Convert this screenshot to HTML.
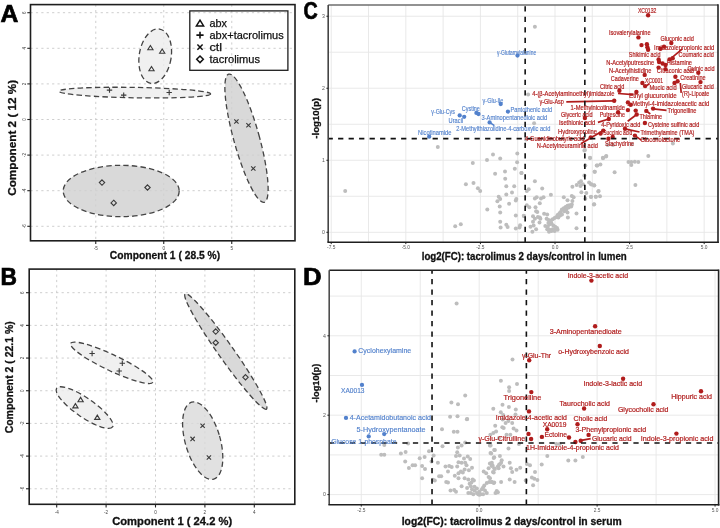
<!DOCTYPE html><html><head><meta charset="utf-8"><style>
html,body{margin:0;padding:0;background:#fff;width:720px;height:528px;overflow:hidden}
svg{display:block;will-change:transform}
text{font-family:"Liberation Sans", sans-serif}
</style></head><body>
<svg width="720" height="528" viewBox="0 0 720 528">
<rect width="720" height="528" fill="#fff"/>
<line x1="30.5" y1="12.7" x2="295" y2="12.7" stroke="#c8c8c8" stroke-width="0.9" stroke-dasharray="2.2,3.2"/>
<line x1="30.5" y1="48.3" x2="295" y2="48.3" stroke="#c8c8c8" stroke-width="0.9" stroke-dasharray="2.2,3.2"/>
<line x1="30.5" y1="83.9" x2="295" y2="83.9" stroke="#c8c8c8" stroke-width="0.9" stroke-dasharray="2.2,3.2"/>
<line x1="30.5" y1="119.5" x2="295" y2="119.5" stroke="#c8c8c8" stroke-width="0.9" stroke-dasharray="2.2,3.2"/>
<line x1="30.5" y1="155.1" x2="295" y2="155.1" stroke="#c8c8c8" stroke-width="0.9" stroke-dasharray="2.2,3.2"/>
<line x1="30.5" y1="190.7" x2="295" y2="190.7" stroke="#c8c8c8" stroke-width="0.9" stroke-dasharray="2.2,3.2"/>
<line x1="30.5" y1="226.3" x2="295" y2="226.3" stroke="#c8c8c8" stroke-width="0.9" stroke-dasharray="2.2,3.2"/>
<line x1="95.75" y1="4.6" x2="95.75" y2="240.8" stroke="#c8c8c8" stroke-width="0.9" stroke-dasharray="2.2,3.2"/>
<line x1="163.75" y1="4.6" x2="163.75" y2="240.8" stroke="#c8c8c8" stroke-width="0.9" stroke-dasharray="2.2,3.2"/>
<line x1="231.75" y1="4.6" x2="231.75" y2="240.8" stroke="#c8c8c8" stroke-width="0.9" stroke-dasharray="2.2,3.2"/>
<ellipse cx="155.2" cy="56.2" rx="16" ry="27.5" transform="rotate(9 155.2 56.2)" fill="#ececec" fill-opacity="0.8" stroke="#444" stroke-width="1.3" stroke-dasharray="5.4,3.2"/>
<ellipse cx="134.8" cy="92.6" rx="75.8" ry="5.2" transform="rotate(1.0 134.8 92.6)" fill="#ececec" fill-opacity="0.8" stroke="#444" stroke-width="1.3" stroke-dasharray="5.4,3.2"/>
<ellipse cx="246.5" cy="138.2" rx="12.8" ry="66.5" transform="rotate(-15.5 246.5 138.2)" fill="#cfcfcf" fill-opacity="0.8" stroke="#444" stroke-width="1.3" stroke-dasharray="5.4,3.2"/>
<ellipse cx="121.2" cy="191" rx="58" ry="25.7" transform="rotate(0 121.2 191)" fill="#cfcfcf" fill-opacity="0.8" stroke="#444" stroke-width="1.3" stroke-dasharray="5.4,3.2"/>
<path d="M150.4 45.5 L153.04 49.82 L147.76000000000002 49.82 Z" fill="none" stroke="#3a3a3a" stroke-width="1.1"/>
<path d="M162.2 49.0 L164.83999999999997 53.32 L159.56 53.32 Z" fill="none" stroke="#3a3a3a" stroke-width="1.1"/>
<path d="M151.5 66.5 L154.14 70.82000000000001 L148.86 70.82000000000001 Z" fill="none" stroke="#3a3a3a" stroke-width="1.1"/>
<path d="M106.8 90.1 H112.2 M109.5 87.39999999999999 V92.8" stroke="#3a3a3a" stroke-width="1.1"/>
<path d="M121.0 95.1 H126.4 M123.7 92.39999999999999 V97.8" stroke="#3a3a3a" stroke-width="1.1"/>
<path d="M166.5 92.5 H171.89999999999998 M169.2 89.8 V95.2" stroke="#3a3a3a" stroke-width="1.1"/>
<path d="M234.24 119.34 L238.56 123.66 M234.24 123.66 L238.56 119.34" stroke="#3a3a3a" stroke-width="1.1"/>
<path d="M246.34 123.04 L250.66 127.36 M246.34 127.36 L250.66 123.04" stroke="#3a3a3a" stroke-width="1.1"/>
<path d="M251.14000000000001 166.34 L255.46 170.66 M251.14000000000001 170.66 L255.46 166.34" stroke="#3a3a3a" stroke-width="1.1"/>
<path d="M102 179.9 L104.7 182.6 L102 185.29999999999998 L99.3 182.6 Z" fill="none" stroke="#3a3a3a" stroke-width="1.1"/>
<path d="M113.7 200.20000000000002 L116.4 202.9 L113.7 205.6 L111.0 202.9 Z" fill="none" stroke="#3a3a3a" stroke-width="1.1"/>
<path d="M147.5 184.8 L150.2 187.5 L147.5 190.2 L144.8 187.5 Z" fill="none" stroke="#3a3a3a" stroke-width="1.1"/>
<rect x="30.5" y="4.6" width="264.5" height="236.20000000000002" fill="none" stroke="#1e1e1e" stroke-width="1.6"/>
<line x1="95.75" y1="240.8" x2="95.75" y2="244.0" stroke="#222" stroke-width="1.1"/>
<text x="95.75" y="250.20000000000002" font-size="4.6" fill="#444" text-anchor="middle">-5</text>
<line x1="163.75" y1="240.8" x2="163.75" y2="244.0" stroke="#222" stroke-width="1.1"/>
<text x="163.75" y="250.20000000000002" font-size="4.6" fill="#444" text-anchor="middle">0</text>
<line x1="231.75" y1="240.8" x2="231.75" y2="244.0" stroke="#222" stroke-width="1.1"/>
<text x="231.75" y="250.20000000000002" font-size="4.6" fill="#444" text-anchor="middle">5</text>
<line x1="27.3" y1="12.7" x2="30.5" y2="12.7" stroke="#222" stroke-width="1.1"/>
<text x="24.0" y="12.7" font-size="4.6" fill="#444" text-anchor="middle" transform="rotate(-90 24.0 12.7)" dy="1.6">6</text>
<line x1="27.3" y1="48.3" x2="30.5" y2="48.3" stroke="#222" stroke-width="1.1"/>
<text x="24.0" y="48.3" font-size="4.6" fill="#444" text-anchor="middle" transform="rotate(-90 24.0 48.3)" dy="1.6">4</text>
<line x1="27.3" y1="83.9" x2="30.5" y2="83.9" stroke="#222" stroke-width="1.1"/>
<text x="24.0" y="83.9" font-size="4.6" fill="#444" text-anchor="middle" transform="rotate(-90 24.0 83.9)" dy="1.6">2</text>
<line x1="27.3" y1="119.5" x2="30.5" y2="119.5" stroke="#222" stroke-width="1.1"/>
<text x="24.0" y="119.5" font-size="4.6" fill="#444" text-anchor="middle" transform="rotate(-90 24.0 119.5)" dy="1.6">0</text>
<line x1="27.3" y1="155.1" x2="30.5" y2="155.1" stroke="#222" stroke-width="1.1"/>
<text x="24.0" y="155.1" font-size="4.6" fill="#444" text-anchor="middle" transform="rotate(-90 24.0 155.1)" dy="1.6">-2</text>
<line x1="27.3" y1="190.7" x2="30.5" y2="190.7" stroke="#222" stroke-width="1.1"/>
<text x="24.0" y="190.7" font-size="4.6" fill="#444" text-anchor="middle" transform="rotate(-90 24.0 190.7)" dy="1.6">-4</text>
<line x1="27.3" y1="226.3" x2="30.5" y2="226.3" stroke="#222" stroke-width="1.1"/>
<text x="24.0" y="226.3" font-size="4.6" fill="#444" text-anchor="middle" transform="rotate(-90 24.0 226.3)" dy="1.6">-6</text>
<text x="109.8" y="258.9" font-size="11.4" font-weight="bold" fill="#111" stroke="#111" stroke-width="0.3" textLength="110.4" lengthAdjust="spacingAndGlyphs">Component 1 ( 28.5 %)</text>
<text x="15.9" y="195.8" font-size="11.4" font-weight="bold" fill="#111" stroke="#111" stroke-width="0.3" textLength="116" lengthAdjust="spacingAndGlyphs" transform="rotate(-90 15.9 195.8)">Component 2 ( 12 %)</text>
<text x="0" y="0" transform="translate(0.53 21.65) scale(1.03 1)" font-size="24" font-weight="bold" fill="#000" stroke="#000" stroke-width="0.7">A</text>
<rect x="189.8" y="10.9" width="98.1" height="59.4" fill="none" stroke="#1e1e1e" stroke-width="1.3"/>
<path d="M200 20.1 L203.6 25.900000000000002 L196.4 25.900000000000002 Z" fill="none" stroke="#111" stroke-width="1.5" stroke-linejoin="miter"/>
<text x="209.5" y="27.1" font-size="10.8" fill="#111" stroke="#111" stroke-width="0.25" textLength="17.5" lengthAdjust="spacingAndGlyphs">abx</text>
<path d="M196.4 35.1 H203.6 M200 31.700000000000003 V38.5" stroke="#111" stroke-width="1.6"/>
<text x="209.5" y="38.9" font-size="10.8" fill="#111" stroke="#111" stroke-width="0.25" textLength="74.2" lengthAdjust="spacingAndGlyphs">abx+tacrolimus</text>
<path d="M197.4 44.5 L202.6 49.7 M197.4 49.7 L202.6 44.5" stroke="#111" stroke-width="1.5"/>
<text x="209.5" y="50.9" font-size="10.8" fill="#111" stroke="#111" stroke-width="0.25" textLength="12.5" lengthAdjust="spacingAndGlyphs">ctl</text>
<path d="M200 56.0 L203.3 59.3 L200 62.599999999999994 L196.7 59.3 Z" fill="none" stroke="#111" stroke-width="1.5"/>
<text x="209.5" y="63.099999999999994" font-size="10.8" fill="#111" stroke="#111" stroke-width="0.25" textLength="50.5" lengthAdjust="spacingAndGlyphs">tacrolimus</text>
<line x1="29.2" y1="292.7" x2="294.8" y2="292.7" stroke="#c8c8c8" stroke-width="0.9" stroke-dasharray="2.2,3.2"/>
<line x1="29.2" y1="325.38" x2="294.8" y2="325.38" stroke="#c8c8c8" stroke-width="0.9" stroke-dasharray="2.2,3.2"/>
<line x1="29.2" y1="358.06" x2="294.8" y2="358.06" stroke="#c8c8c8" stroke-width="0.9" stroke-dasharray="2.2,3.2"/>
<line x1="29.2" y1="390.74" x2="294.8" y2="390.74" stroke="#c8c8c8" stroke-width="0.9" stroke-dasharray="2.2,3.2"/>
<line x1="29.2" y1="423.42" x2="294.8" y2="423.42" stroke="#c8c8c8" stroke-width="0.9" stroke-dasharray="2.2,3.2"/>
<line x1="29.2" y1="456.1" x2="294.8" y2="456.1" stroke="#c8c8c8" stroke-width="0.9" stroke-dasharray="2.2,3.2"/>
<line x1="29.2" y1="488.78" x2="294.8" y2="488.78" stroke="#c8c8c8" stroke-width="0.9" stroke-dasharray="2.2,3.2"/>
<line x1="56.7" y1="269.1" x2="56.7" y2="504.3" stroke="#c8c8c8" stroke-width="0.9" stroke-dasharray="2.2,3.2"/>
<line x1="106.1" y1="269.1" x2="106.1" y2="504.3" stroke="#c8c8c8" stroke-width="0.9" stroke-dasharray="2.2,3.2"/>
<line x1="155.5" y1="269.1" x2="155.5" y2="504.3" stroke="#c8c8c8" stroke-width="0.9" stroke-dasharray="2.2,3.2"/>
<line x1="204.9" y1="269.1" x2="204.9" y2="504.3" stroke="#c8c8c8" stroke-width="0.9" stroke-dasharray="2.2,3.2"/>
<line x1="254.3" y1="269.1" x2="254.3" y2="504.3" stroke="#c8c8c8" stroke-width="0.9" stroke-dasharray="2.2,3.2"/>
<ellipse cx="111.7" cy="362.8" rx="45.5" ry="8" transform="rotate(25.3 111.7 362.8)" fill="#ececec" fill-opacity="0.8" stroke="#444" stroke-width="1.3" stroke-dasharray="5.4,3.2"/>
<ellipse cx="84.6" cy="407.6" rx="34" ry="9.5" transform="rotate(34.7 84.6 407.6)" fill="#ececec" fill-opacity="0.8" stroke="#444" stroke-width="1.3" stroke-dasharray="5.4,3.2"/>
<ellipse cx="225.8" cy="351.5" rx="70.5" ry="7.6" transform="rotate(54.8 225.8 351.5)" fill="#cfcfcf" fill-opacity="0.8" stroke="#444" stroke-width="1.3" stroke-dasharray="5.4,3.2"/>
<ellipse cx="202.7" cy="440.7" rx="17.5" ry="40" transform="rotate(-16 202.7 440.7)" fill="#d9d9d9" fill-opacity="0.8" stroke="#444" stroke-width="1.3" stroke-dasharray="5.4,3.2"/>
<path d="M89.39999999999999 353.5 H94.8 M92.1 350.8 V356.2" stroke="#3a3a3a" stroke-width="1.1"/>
<path d="M119.6 363.3 H125.0 M122.3 360.6 V366.0" stroke="#3a3a3a" stroke-width="1.1"/>
<path d="M116.5 371 H121.9 M119.2 368.3 V373.7" stroke="#3a3a3a" stroke-width="1.1"/>
<path d="M80.6 397.40000000000003 L83.24 401.72 L77.96 401.72 Z" fill="none" stroke="#3a3a3a" stroke-width="1.1"/>
<path d="M75.4 403.6 L78.04 407.92 L72.76 407.92 Z" fill="none" stroke="#3a3a3a" stroke-width="1.1"/>
<path d="M97.3 415.1 L99.94 419.42 L94.66 419.42 Z" fill="none" stroke="#3a3a3a" stroke-width="1.1"/>
<path d="M215.7 328.90000000000003 L218.39999999999998 331.6 L215.7 334.3 L213.0 331.6 Z" fill="none" stroke="#3a3a3a" stroke-width="1.1"/>
<path d="M215.7 340.0 L218.39999999999998 342.7 L215.7 345.4 L213.0 342.7 Z" fill="none" stroke="#3a3a3a" stroke-width="1.1"/>
<path d="M245.5 374.6 L248.2 377.3 L245.5 380.0 L242.8 377.3 Z" fill="none" stroke="#3a3a3a" stroke-width="1.1"/>
<path d="M200.44 423.64 L204.76 427.96000000000004 M200.44 427.96000000000004 L204.76 423.64" stroke="#3a3a3a" stroke-width="1.1"/>
<path d="M190.44 436.73999999999995 L194.76 441.06 M190.44 441.06 L194.76 436.73999999999995" stroke="#3a3a3a" stroke-width="1.1"/>
<path d="M206.74 455.34 L211.06 459.66 M206.74 459.66 L211.06 455.34" stroke="#3a3a3a" stroke-width="1.1"/>
<rect x="29.2" y="269.1" width="265.6" height="235.2" fill="none" stroke="#1e1e1e" stroke-width="1.6"/>
<line x1="56.7" y1="504.3" x2="56.7" y2="507.5" stroke="#222" stroke-width="1.1"/>
<text x="56.7" y="513.7" font-size="4.6" fill="#444" text-anchor="middle">-4</text>
<line x1="106.1" y1="504.3" x2="106.1" y2="507.5" stroke="#222" stroke-width="1.1"/>
<text x="106.1" y="513.7" font-size="4.6" fill="#444" text-anchor="middle">-2</text>
<line x1="155.5" y1="504.3" x2="155.5" y2="507.5" stroke="#222" stroke-width="1.1"/>
<text x="155.5" y="513.7" font-size="4.6" fill="#444" text-anchor="middle">0</text>
<line x1="204.9" y1="504.3" x2="204.9" y2="507.5" stroke="#222" stroke-width="1.1"/>
<text x="204.9" y="513.7" font-size="4.6" fill="#444" text-anchor="middle">2</text>
<line x1="254.3" y1="504.3" x2="254.3" y2="507.5" stroke="#222" stroke-width="1.1"/>
<text x="254.3" y="513.7" font-size="4.6" fill="#444" text-anchor="middle">4</text>
<line x1="26.0" y1="292.7" x2="29.2" y2="292.7" stroke="#222" stroke-width="1.1"/>
<text x="22.7" y="292.7" font-size="4.6" fill="#444" text-anchor="middle" transform="rotate(-90 22.7 292.7)" dy="1.6">6</text>
<line x1="26.0" y1="325.38" x2="29.2" y2="325.38" stroke="#222" stroke-width="1.1"/>
<text x="22.7" y="325.38" font-size="4.6" fill="#444" text-anchor="middle" transform="rotate(-90 22.7 325.38)" dy="1.6">4</text>
<line x1="26.0" y1="358.06" x2="29.2" y2="358.06" stroke="#222" stroke-width="1.1"/>
<text x="22.7" y="358.06" font-size="4.6" fill="#444" text-anchor="middle" transform="rotate(-90 22.7 358.06)" dy="1.6">2</text>
<line x1="26.0" y1="390.74" x2="29.2" y2="390.74" stroke="#222" stroke-width="1.1"/>
<text x="22.7" y="390.74" font-size="4.6" fill="#444" text-anchor="middle" transform="rotate(-90 22.7 390.74)" dy="1.6">0</text>
<line x1="26.0" y1="423.42" x2="29.2" y2="423.42" stroke="#222" stroke-width="1.1"/>
<text x="22.7" y="423.42" font-size="4.6" fill="#444" text-anchor="middle" transform="rotate(-90 22.7 423.42)" dy="1.6">-2</text>
<line x1="26.0" y1="456.1" x2="29.2" y2="456.1" stroke="#222" stroke-width="1.1"/>
<text x="22.7" y="456.1" font-size="4.6" fill="#444" text-anchor="middle" transform="rotate(-90 22.7 456.1)" dy="1.6">-4</text>
<line x1="26.0" y1="488.78" x2="29.2" y2="488.78" stroke="#222" stroke-width="1.1"/>
<text x="22.7" y="488.78" font-size="4.6" fill="#444" text-anchor="middle" transform="rotate(-90 22.7 488.78)" dy="1.6">-6</text>
<text x="112.2" y="524.9" font-size="11.4" font-weight="bold" fill="#111" stroke="#111" stroke-width="0.3" textLength="120" lengthAdjust="spacingAndGlyphs">Component 1 ( 24.2 %)</text>
<text x="12.7" y="433.3" font-size="11.4" font-weight="bold" fill="#111" stroke="#111" stroke-width="0.3" textLength="112" lengthAdjust="spacingAndGlyphs" transform="rotate(-90 12.7 433.3)">Component 2 ( 22.1 %)</text>
<text x="0" y="0" transform="translate(0.53 284.55) scale(0.95 1)" font-size="24" font-weight="bold" fill="#000" stroke="#000" stroke-width="0.7">B</text>
<line x1="331.23" y1="5" x2="331.23" y2="242.3" stroke="#e6e6e6" stroke-width="0.9"/>
<line x1="368.52" y1="5" x2="368.52" y2="242.3" stroke="#e6e6e6" stroke-width="0.9"/>
<line x1="405.82" y1="5" x2="405.82" y2="242.3" stroke="#e6e6e6" stroke-width="0.9"/>
<line x1="443.12" y1="5" x2="443.12" y2="242.3" stroke="#e6e6e6" stroke-width="0.9"/>
<line x1="480.41" y1="5" x2="480.41" y2="242.3" stroke="#e6e6e6" stroke-width="0.9"/>
<line x1="517.71" y1="5" x2="517.71" y2="242.3" stroke="#e6e6e6" stroke-width="0.9"/>
<line x1="555.00" y1="5" x2="555.00" y2="242.3" stroke="#e6e6e6" stroke-width="0.9"/>
<line x1="592.29" y1="5" x2="592.29" y2="242.3" stroke="#e6e6e6" stroke-width="0.9"/>
<line x1="629.59" y1="5" x2="629.59" y2="242.3" stroke="#e6e6e6" stroke-width="0.9"/>
<line x1="666.88" y1="5" x2="666.88" y2="242.3" stroke="#e6e6e6" stroke-width="0.9"/>
<line x1="704.18" y1="5" x2="704.18" y2="242.3" stroke="#e6e6e6" stroke-width="0.9"/>
<line x1="328.2" y1="232.30" x2="718" y2="232.30" stroke="#e6e6e6" stroke-width="0.9"/>
<line x1="328.2" y1="196.29" x2="718" y2="196.29" stroke="#e6e6e6" stroke-width="0.9"/>
<line x1="328.2" y1="160.28" x2="718" y2="160.28" stroke="#e6e6e6" stroke-width="0.9"/>
<line x1="328.2" y1="124.27" x2="718" y2="124.27" stroke="#e6e6e6" stroke-width="0.9"/>
<line x1="328.2" y1="88.26" x2="718" y2="88.26" stroke="#e6e6e6" stroke-width="0.9"/>
<line x1="328.2" y1="52.25" x2="718" y2="52.25" stroke="#e6e6e6" stroke-width="0.9"/>
<line x1="328.2" y1="16.24" x2="718" y2="16.24" stroke="#e6e6e6" stroke-width="0.9"/>
<circle cx="584.4" cy="175.5" r="2.0" fill="#bdbdbd"/>
<circle cx="345.2" cy="190.9" r="2.0" fill="#bdbdbd"/>
<circle cx="437.8" cy="147.1" r="2.0" fill="#bdbdbd"/>
<circle cx="528.1" cy="94.4" r="2.0" fill="#bdbdbd"/>
<circle cx="534.1" cy="123.3" r="2.0" fill="#bdbdbd"/>
<circle cx="534.9" cy="26.7" r="2.0" fill="#bdbdbd"/>
<circle cx="526" cy="139.6" r="2.0" fill="#bdbdbd"/>
<circle cx="493.0" cy="154.6" r="2.0" fill="#bdbdbd"/>
<circle cx="487.0" cy="160.1" r="2.0" fill="#bdbdbd"/>
<circle cx="500.2" cy="158.4" r="2.0" fill="#bdbdbd"/>
<circle cx="517.3" cy="153.6" r="2.0" fill="#bdbdbd"/>
<circle cx="472.8" cy="163.1" r="2.0" fill="#bdbdbd"/>
<circle cx="517.1" cy="162.3" r="2.0" fill="#bdbdbd"/>
<circle cx="514.8" cy="168.8" r="2.0" fill="#bdbdbd"/>
<circle cx="505.0" cy="171.4" r="2.0" fill="#bdbdbd"/>
<circle cx="495.1" cy="173.7" r="2.0" fill="#bdbdbd"/>
<circle cx="521.4" cy="173.1" r="2.0" fill="#bdbdbd"/>
<circle cx="505.2" cy="178.8" r="2.0" fill="#bdbdbd"/>
<circle cx="465.9" cy="184.3" r="2.0" fill="#bdbdbd"/>
<circle cx="473.5" cy="183.0" r="2.0" fill="#bdbdbd"/>
<circle cx="477.9" cy="188.3" r="2.0" fill="#bdbdbd"/>
<circle cx="480.2" cy="191.1" r="2.0" fill="#bdbdbd"/>
<circle cx="506.3" cy="186.2" r="2.0" fill="#bdbdbd"/>
<circle cx="514.2" cy="186.2" r="2.0" fill="#bdbdbd"/>
<circle cx="512.0" cy="192.5" r="2.0" fill="#bdbdbd"/>
<circle cx="506.3" cy="194.4" r="2.0" fill="#bdbdbd"/>
<circle cx="498.7" cy="196.8" r="2.0" fill="#bdbdbd"/>
<circle cx="500.2" cy="199.1" r="2.0" fill="#bdbdbd"/>
<circle cx="497.4" cy="201.2" r="2.0" fill="#bdbdbd"/>
<circle cx="516.3" cy="199.1" r="2.0" fill="#bdbdbd"/>
<circle cx="515.8" cy="200.6" r="2.0" fill="#bdbdbd"/>
<circle cx="509.1" cy="203.8" r="2.0" fill="#bdbdbd"/>
<circle cx="499.7" cy="206.5" r="2.0" fill="#bdbdbd"/>
<circle cx="487.3" cy="209.5" r="2.0" fill="#bdbdbd"/>
<circle cx="500.2" cy="212.5" r="2.0" fill="#bdbdbd"/>
<circle cx="515.8" cy="215.4" r="2.0" fill="#bdbdbd"/>
<circle cx="500.2" cy="221.8" r="2.0" fill="#bdbdbd"/>
<circle cx="506.3" cy="224.8" r="2.0" fill="#bdbdbd"/>
<circle cx="507.6" cy="227.1" r="2.0" fill="#bdbdbd"/>
<circle cx="500.6" cy="227.5" r="2.0" fill="#bdbdbd"/>
<circle cx="515.8" cy="228.6" r="2.0" fill="#bdbdbd"/>
<circle cx="519.5" cy="227.5" r="2.0" fill="#bdbdbd"/>
<circle cx="520.1" cy="225.2" r="2.0" fill="#bdbdbd"/>
<circle cx="455.2" cy="226.2" r="2.0" fill="#bdbdbd"/>
<circle cx="460.8" cy="224.3" r="2.0" fill="#bdbdbd"/>
<circle cx="523.9" cy="216.1" r="2.0" fill="#bdbdbd"/>
<circle cx="521.5" cy="173.1" r="2.0" fill="#bdbdbd"/>
<circle cx="584.4" cy="150.4" r="2.0" fill="#bdbdbd"/>
<circle cx="590.1" cy="158.0" r="2.0" fill="#bdbdbd"/>
<circle cx="585.3" cy="165.6" r="2.0" fill="#bdbdbd"/>
<circle cx="594.8" cy="171.8" r="2.0" fill="#bdbdbd"/>
<circle cx="596.7" cy="165.6" r="2.0" fill="#bdbdbd"/>
<circle cx="589.1" cy="182.6" r="2.0" fill="#bdbdbd"/>
<circle cx="591.6" cy="184.5" r="2.0" fill="#bdbdbd"/>
<circle cx="594.2" cy="185.5" r="2.0" fill="#bdbdbd"/>
<circle cx="598.6" cy="191.1" r="2.0" fill="#bdbdbd"/>
<circle cx="586.3" cy="193.0" r="2.0" fill="#bdbdbd"/>
<circle cx="585.3" cy="198.7" r="2.0" fill="#bdbdbd"/>
<circle cx="591.0" cy="196.8" r="2.0" fill="#bdbdbd"/>
<circle cx="595.8" cy="196.8" r="2.0" fill="#bdbdbd"/>
<circle cx="593.9" cy="204.4" r="2.0" fill="#bdbdbd"/>
<circle cx="523.8" cy="215.8" r="2.0" fill="#bdbdbd"/>
<circle cx="672.9" cy="143.5" r="2.0" fill="#bdbdbd"/>
<circle cx="607.7" cy="145.0" r="2.0" fill="#bdbdbd"/>
<circle cx="612.9" cy="145.0" r="2.0" fill="#bdbdbd"/>
<circle cx="631.7" cy="144.2" r="2.0" fill="#bdbdbd"/>
<circle cx="590" cy="157.7" r="2.0" fill="#bdbdbd"/>
<circle cx="602.9" cy="157.7" r="2.0" fill="#bdbdbd"/>
<circle cx="606.3" cy="156.0" r="2.0" fill="#bdbdbd"/>
<circle cx="648.3" cy="156.0" r="2.0" fill="#bdbdbd"/>
<circle cx="628.5" cy="161.9" r="2.0" fill="#bdbdbd"/>
<circle cx="631.3" cy="161.9" r="2.0" fill="#bdbdbd"/>
<circle cx="634.8" cy="161.7" r="2.0" fill="#bdbdbd"/>
<circle cx="638.3" cy="161.9" r="2.0" fill="#bdbdbd"/>
<circle cx="631.3" cy="165.0" r="2.0" fill="#bdbdbd"/>
<circle cx="597.3" cy="165.4" r="2.0" fill="#bdbdbd"/>
<circle cx="600.4" cy="164.4" r="2.0" fill="#bdbdbd"/>
<circle cx="594.6" cy="171.7" r="2.0" fill="#bdbdbd"/>
<circle cx="614.6" cy="172.3" r="2.0" fill="#bdbdbd"/>
<circle cx="591.0" cy="184.2" r="2.0" fill="#bdbdbd"/>
<circle cx="594.2" cy="185.2" r="2.0" fill="#bdbdbd"/>
<circle cx="635.4" cy="185.0" r="2.0" fill="#bdbdbd"/>
<circle cx="598.3" cy="191.5" r="2.0" fill="#bdbdbd"/>
<circle cx="591.0" cy="197.1" r="2.0" fill="#bdbdbd"/>
<circle cx="595.8" cy="196.7" r="2.0" fill="#bdbdbd"/>
<circle cx="600.0" cy="196.3" r="2.0" fill="#bdbdbd"/>
<circle cx="594.2" cy="204.2" r="2.0" fill="#bdbdbd"/>
<circle cx="584.9" cy="150.1" r="2.0" fill="#bdbdbd"/>
<circle cx="603" cy="158.2" r="2.0" fill="#bdbdbd"/>
<circle cx="606" cy="156.4" r="2.0" fill="#bdbdbd"/>
<circle cx="534.9" cy="181.2" r="2.0" fill="#bdbdbd"/>
<circle cx="542.2" cy="188.5" r="2.0" fill="#bdbdbd"/>
<circle cx="528.7" cy="189.2" r="2.0" fill="#bdbdbd"/>
<circle cx="526.8" cy="191" r="2.0" fill="#bdbdbd"/>
<circle cx="550.9" cy="194.7" r="2.0" fill="#bdbdbd"/>
<circle cx="534.9" cy="198.6" r="2.0" fill="#bdbdbd"/>
<circle cx="536.7" cy="197.2" r="2.0" fill="#bdbdbd"/>
<circle cx="541" cy="198.4" r="2.0" fill="#bdbdbd"/>
<circle cx="543.5" cy="197.2" r="2.0" fill="#bdbdbd"/>
<circle cx="539.8" cy="203.3" r="2.0" fill="#bdbdbd"/>
<circle cx="526.8" cy="205.2" r="2.0" fill="#bdbdbd"/>
<circle cx="529.3" cy="207.3" r="2.0" fill="#bdbdbd"/>
<circle cx="535.5" cy="207.3" r="2.0" fill="#bdbdbd"/>
<circle cx="536.1" cy="211.3" r="2.0" fill="#bdbdbd"/>
<circle cx="537.3" cy="211.9" r="2.0" fill="#bdbdbd"/>
<circle cx="544.1" cy="213.8" r="2.0" fill="#bdbdbd"/>
<circle cx="547.2" cy="214.4" r="2.0" fill="#bdbdbd"/>
<circle cx="533" cy="216.3" r="2.0" fill="#bdbdbd"/>
<circle cx="537.9" cy="216.9" r="2.0" fill="#bdbdbd"/>
<circle cx="539.8" cy="217.5" r="2.0" fill="#bdbdbd"/>
<circle cx="540.4" cy="218.7" r="2.0" fill="#bdbdbd"/>
<circle cx="534.9" cy="218.7" r="2.0" fill="#bdbdbd"/>
<circle cx="533" cy="221.8" r="2.0" fill="#bdbdbd"/>
<circle cx="539.5" cy="222.4" r="2.0" fill="#bdbdbd"/>
<circle cx="530.5" cy="226.7" r="2.0" fill="#bdbdbd"/>
<circle cx="533.6" cy="225.5" r="2.0" fill="#bdbdbd"/>
<circle cx="536.1" cy="229.2" r="2.0" fill="#bdbdbd"/>
<circle cx="532.4" cy="231.7" r="2.0" fill="#bdbdbd"/>
<circle cx="546.6" cy="218.7" r="2.0" fill="#bdbdbd"/>
<circle cx="548.4" cy="220" r="2.0" fill="#bdbdbd"/>
<circle cx="550.2" cy="220.6" r="2.0" fill="#bdbdbd"/>
<circle cx="552.7" cy="219.3" r="2.0" fill="#bdbdbd"/>
<circle cx="554.6" cy="218.1" r="2.0" fill="#bdbdbd"/>
<circle cx="556.4" cy="216.9" r="2.0" fill="#bdbdbd"/>
<circle cx="557.6" cy="215" r="2.0" fill="#bdbdbd"/>
<circle cx="559.5" cy="213.2" r="2.0" fill="#bdbdbd"/>
<circle cx="560.7" cy="211.9" r="2.0" fill="#bdbdbd"/>
<circle cx="561.9" cy="209.5" r="2.0" fill="#bdbdbd"/>
<circle cx="563.8" cy="208.3" r="2.0" fill="#bdbdbd"/>
<circle cx="565.6" cy="207" r="2.0" fill="#bdbdbd"/>
<circle cx="567.5" cy="205.8" r="2.0" fill="#bdbdbd"/>
<circle cx="569.3" cy="205.2" r="2.0" fill="#bdbdbd"/>
<circle cx="571.8" cy="204.6" r="2.0" fill="#bdbdbd"/>
<circle cx="558.3" cy="217.5" r="2.0" fill="#bdbdbd"/>
<circle cx="560.1" cy="215.6" r="2.0" fill="#bdbdbd"/>
<circle cx="562" cy="214.4" r="2.0" fill="#bdbdbd"/>
<circle cx="564.4" cy="211.3" r="2.0" fill="#bdbdbd"/>
<circle cx="566.3" cy="209.5" r="2.0" fill="#bdbdbd"/>
<circle cx="568.7" cy="207.6" r="2.0" fill="#bdbdbd"/>
<circle cx="571.2" cy="206.4" r="2.0" fill="#bdbdbd"/>
<circle cx="545.3" cy="226.1" r="2.0" fill="#bdbdbd"/>
<circle cx="547.8" cy="226.7" r="2.0" fill="#bdbdbd"/>
<circle cx="549.6" cy="224.3" r="2.0" fill="#bdbdbd"/>
<circle cx="551.5" cy="223.6" r="2.0" fill="#bdbdbd"/>
<circle cx="553.3" cy="225.5" r="2.0" fill="#bdbdbd"/>
<circle cx="555.2" cy="226.7" r="2.0" fill="#bdbdbd"/>
<circle cx="557" cy="228" r="2.0" fill="#bdbdbd"/>
<circle cx="555.8" cy="229.2" r="2.0" fill="#bdbdbd"/>
<circle cx="552.7" cy="229.2" r="2.0" fill="#bdbdbd"/>
<circle cx="549.6" cy="229.8" r="2.0" fill="#bdbdbd"/>
<circle cx="549" cy="231.7" r="2.0" fill="#bdbdbd"/>
<circle cx="551.5" cy="231" r="2.0" fill="#bdbdbd"/>
<circle cx="554.6" cy="231" r="2.0" fill="#bdbdbd"/>
<circle cx="557.6" cy="229.8" r="2.0" fill="#bdbdbd"/>
<circle cx="547.2" cy="229.2" r="2.0" fill="#bdbdbd"/>
<circle cx="548.4" cy="223" r="2.0" fill="#bdbdbd"/>
<circle cx="550.9" cy="221.8" r="2.0" fill="#bdbdbd"/>
<circle cx="567.5" cy="200.2" r="2.0" fill="#bdbdbd"/>
<circle cx="567.5" cy="212.6" r="2.0" fill="#bdbdbd"/>
<circle cx="567.9" cy="217.5" r="2.0" fill="#bdbdbd"/>
<circle cx="563.8" cy="197.2" r="2.0" fill="#bdbdbd"/>
<circle cx="571.8" cy="195.9" r="2.0" fill="#bdbdbd"/>
<circle cx="573.6" cy="197.2" r="2.0" fill="#bdbdbd"/>
<circle cx="572.4" cy="201.1" r="2.0" fill="#bdbdbd"/>
<circle cx="572.4" cy="186.7" r="2.0" fill="#bdbdbd"/>
<circle cx="576.7" cy="184.9" r="2.0" fill="#bdbdbd"/>
<circle cx="579.2" cy="182.4" r="2.0" fill="#bdbdbd"/>
<circle cx="581" cy="181.2" r="2.0" fill="#bdbdbd"/>
<circle cx="582.9" cy="184.2" r="2.0" fill="#bdbdbd"/>
<circle cx="580.4" cy="186.1" r="2.0" fill="#bdbdbd"/>
<circle cx="581.4" cy="192.2" r="2.0" fill="#bdbdbd"/>
<circle cx="576.5" cy="213.4" r="2.0" fill="#bdbdbd"/>
<circle cx="576.5" cy="228.2" r="2.0" fill="#bdbdbd"/>
<line x1="669.5" y1="59.6" x2="682.1" y2="49.1" stroke="#b01c1c" stroke-width="1.7"/>
<line x1="680.3" y1="83" x2="681.2" y2="92.9" stroke="#b01c1c" stroke-width="1.7"/>
<line x1="646" y1="86.1" x2="649.6" y2="83.5" stroke="#b01c1c" stroke-width="1.7"/>
<line x1="618" y1="93.5" x2="633.3" y2="94.7" stroke="#b01c1c" stroke-width="1.7"/>
<line x1="566.3" y1="101.9" x2="614.2" y2="100.8" stroke="#b01c1c" stroke-width="1.7"/>
<line x1="653.2" y1="108.8" x2="666.5" y2="110.3" stroke="#b01c1c" stroke-width="1.7"/>
<line x1="646.7" y1="111.3" x2="650.3" y2="114" stroke="#b01c1c" stroke-width="1.7"/>
<line x1="597.9" y1="122.4" x2="608.8" y2="119" stroke="#b01c1c" stroke-width="1.7"/>
<line x1="627.7" y1="121.2" x2="636.7" y2="114.5" stroke="#b01c1c" stroke-width="1.7"/>
<line x1="580.8" y1="143.8" x2="603.3" y2="130.6" stroke="#b01c1c" stroke-width="1.7"/>
<line x1="625" y1="128.8" x2="639.5" y2="132" stroke="#b01c1c" stroke-width="1.7"/>
<line x1="634.9" y1="135.6" x2="641.3" y2="140.1" stroke="#b01c1c" stroke-width="1.7"/>
<line x1="489.6" y1="122.4" x2="494.4" y2="125.6" stroke="#5281cc" stroke-width="1.6"/>
<circle cx="648.1" cy="15.3" r="2.2" fill="#b01c1c"/>
<circle cx="638.4" cy="37.4" r="2.2" fill="#b01c1c"/>
<circle cx="641.5" cy="45.1" r="2.2" fill="#b01c1c"/>
<circle cx="646.9" cy="44.2" r="2.2" fill="#b01c1c"/>
<circle cx="647.4" cy="47.3" r="2.2" fill="#b01c1c"/>
<circle cx="648.1" cy="49.7" r="2.2" fill="#b01c1c"/>
<circle cx="671.3" cy="43.0" r="2.2" fill="#b01c1c"/>
<circle cx="664" cy="46.6" r="2.2" fill="#b01c1c"/>
<circle cx="660.4" cy="48.8" r="2.2" fill="#b01c1c"/>
<circle cx="669.5" cy="59.4" r="2.2" fill="#b01c1c"/>
<circle cx="672.7" cy="58.2" r="2.2" fill="#b01c1c"/>
<circle cx="658.6" cy="59.5" r="2.2" fill="#b01c1c"/>
<circle cx="659.1" cy="62" r="2.2" fill="#b01c1c"/>
<circle cx="662.6" cy="63.5" r="2.2" fill="#b01c1c"/>
<circle cx="665.5" cy="65" r="2.2" fill="#b01c1c"/>
<circle cx="658.6" cy="67.6" r="2.2" fill="#b01c1c"/>
<circle cx="665.5" cy="69.1" r="2.2" fill="#b01c1c"/>
<circle cx="698.3" cy="72.7" r="2.2" fill="#b01c1c"/>
<circle cx="675.4" cy="76.7" r="2.2" fill="#b01c1c"/>
<circle cx="644.7" cy="74.9" r="2.2" fill="#b01c1c"/>
<circle cx="642.4" cy="83" r="2.2" fill="#b01c1c"/>
<circle cx="645.1" cy="86.1" r="2.2" fill="#b01c1c"/>
<circle cx="700.5" cy="82.1" r="2.2" fill="#b01c1c"/>
<circle cx="674.5" cy="83" r="2.2" fill="#b01c1c"/>
<circle cx="677.6" cy="81.2" r="2.2" fill="#b01c1c"/>
<circle cx="619.4" cy="90.8" r="2.2" fill="#b01c1c"/>
<circle cx="636.4" cy="92" r="2.2" fill="#b01c1c"/>
<circle cx="614.2" cy="100.8" r="2.2" fill="#b01c1c"/>
<circle cx="627.9" cy="102.4" r="2.2" fill="#b01c1c"/>
<circle cx="630.7" cy="104.8" r="2.2" fill="#b01c1c"/>
<circle cx="627.9" cy="110.1" r="2.2" fill="#b01c1c"/>
<circle cx="635.7" cy="110.6" r="2.2" fill="#b01c1c"/>
<circle cx="653.1" cy="108.6" r="2.2" fill="#b01c1c"/>
<circle cx="618.1" cy="112.2" r="2.2" fill="#b01c1c"/>
<circle cx="646.3" cy="110.9" r="2.2" fill="#b01c1c"/>
<circle cx="584.9" cy="118.1" r="2.2" fill="#b01c1c"/>
<circle cx="608.8" cy="119" r="2.2" fill="#b01c1c"/>
<circle cx="636.7" cy="114.5" r="2.2" fill="#b01c1c"/>
<circle cx="644.9" cy="123" r="2.2" fill="#b01c1c"/>
<circle cx="603.3" cy="130.6" r="2.2" fill="#b01c1c"/>
<circle cx="600.6" cy="133.5" r="2.2" fill="#b01c1c"/>
<circle cx="625" cy="128.8" r="2.2" fill="#b01c1c"/>
<circle cx="634.9" cy="135.6" r="2.2" fill="#b01c1c"/>
<circle cx="590.7" cy="137.4" r="2.2" fill="#b01c1c"/>
<circle cx="608.4" cy="138.7" r="2.2" fill="#b01c1c"/>
<circle cx="612.7" cy="136.9" r="2.2" fill="#b01c1c"/>
<circle cx="517.5" cy="55.6" r="2.15" fill="#5281cc"/>
<circle cx="500.7" cy="104" r="2.15" fill="#5281cc"/>
<circle cx="507.9" cy="111.6" r="2.15" fill="#5281cc"/>
<circle cx="459.7" cy="115.4" r="2.15" fill="#5281cc"/>
<circle cx="464.2" cy="116.8" r="2.15" fill="#5281cc"/>
<circle cx="476.4" cy="112.9" r="2.15" fill="#5281cc"/>
<circle cx="478.5" cy="114" r="2.15" fill="#5281cc"/>
<circle cx="489.6" cy="122.4" r="2.15" fill="#5281cc"/>
<circle cx="429.2" cy="136.7" r="2.15" fill="#5281cc"/>
<line x1="525.16" y1="5" x2="525.16" y2="242.3" stroke="#111" stroke-width="1.6" stroke-dasharray="5.25,5.25" stroke-dashoffset="-1.3"/>
<line x1="584.84" y1="5" x2="584.84" y2="242.3" stroke="#111" stroke-width="1.6" stroke-dasharray="5.25,5.25" stroke-dashoffset="-1.3"/>
<line x1="328.2" y1="138.60" x2="718" y2="138.60" stroke="#111" stroke-width="1.6" stroke-dasharray="5.25,5.25" stroke-dashoffset="0.6"/>
<text x="637.9" y="13.45" font-size="7.5" fill="#b01c1c" stroke="#b01c1c" stroke-width="0.2" textLength="18.5" lengthAdjust="spacingAndGlyphs">XC0132</text>
<text x="609" y="35.25" font-size="7.5" fill="#b01c1c" stroke="#b01c1c" stroke-width="0.2" textLength="41.5" lengthAdjust="spacingAndGlyphs">Isovalerylalanine</text>
<text x="660.4" y="41.05" font-size="7.5" fill="#b01c1c" stroke="#b01c1c" stroke-width="0.2" textLength="33.4" lengthAdjust="spacingAndGlyphs">Gluconic acid</text>
<text x="654.1" y="50.15" font-size="7.5" fill="#b01c1c" stroke="#b01c1c" stroke-width="0.2" textLength="60.1" lengthAdjust="spacingAndGlyphs">Imidazolepropionic acid</text>
<text x="628.8" y="56.95" font-size="7.5" fill="#b01c1c" stroke="#b01c1c" stroke-width="0.2" textLength="31.6" lengthAdjust="spacingAndGlyphs">Shikimic acid</text>
<text x="678.5" y="56.95" font-size="7.5" fill="#b01c1c" stroke="#b01c1c" stroke-width="0.2" textLength="35.2" lengthAdjust="spacingAndGlyphs">Coumaric acid</text>
<text x="606.3" y="65.35" font-size="7.5" fill="#b01c1c" stroke="#b01c1c" stroke-width="0.2" textLength="47.8" lengthAdjust="spacingAndGlyphs">N-Acetylputrescine</text>
<text x="666.7" y="65.35" font-size="7.5" fill="#b01c1c" stroke="#b01c1c" stroke-width="0.2" textLength="25.3" lengthAdjust="spacingAndGlyphs">Histamine</text>
<text x="609" y="73.15" font-size="7.5" fill="#b01c1c" stroke="#b01c1c" stroke-width="0.2" textLength="42.4" lengthAdjust="spacingAndGlyphs">N-Acetylhistidine</text>
<text x="656.8" y="73.15" font-size="7.5" fill="#b01c1c" stroke="#b01c1c" stroke-width="0.2" textLength="37.0" lengthAdjust="spacingAndGlyphs">Citraconic acid</text>
<text x="687.5" y="70.75" font-size="7.5" fill="#b01c1c" stroke="#b01c1c" stroke-width="0.2" textLength="27.1" lengthAdjust="spacingAndGlyphs">Quinic acid</text>
<text x="680.3" y="80.35" font-size="7.5" fill="#b01c1c" stroke="#b01c1c" stroke-width="0.2" textLength="25.3" lengthAdjust="spacingAndGlyphs">Creatinine</text>
<text x="610.8" y="81.25" font-size="7.5" fill="#b01c1c" stroke="#b01c1c" stroke-width="0.2" textLength="28.0" lengthAdjust="spacingAndGlyphs">Cadaverine</text>
<text x="645.1" y="82.55" font-size="7.5" fill="#b01c1c" stroke="#b01c1c" stroke-width="0.2" textLength="18.0" lengthAdjust="spacingAndGlyphs">XC0001</text>
<text x="649.6" y="90.25" font-size="7.5" fill="#b01c1c" stroke="#b01c1c" stroke-width="0.2" textLength="27.1" lengthAdjust="spacingAndGlyphs">Mucic acid</text>
<text x="682.1" y="88.85" font-size="7.5" fill="#b01c1c" stroke="#b01c1c" stroke-width="0.2" textLength="31.6" lengthAdjust="spacingAndGlyphs">Glucaric acid</text>
<text x="682.1" y="96.05" font-size="7.5" fill="#b01c1c" stroke="#b01c1c" stroke-width="0.2" textLength="27.1" lengthAdjust="spacingAndGlyphs">(R)-Lipoate</text>
<text x="599.9" y="89.35" font-size="7.5" fill="#b01c1c" stroke="#b01c1c" stroke-width="0.2" textLength="24.4" lengthAdjust="spacingAndGlyphs">Citric acid</text>
<text x="532.3" y="96.45" font-size="7.5" fill="#b01c1c" stroke="#b01c1c" stroke-width="0.2" textLength="82.1" lengthAdjust="spacingAndGlyphs">4-(β-Acetylaminoethyl)imidazole</text>
<text x="629" y="98.45" font-size="7.5" fill="#b01c1c" stroke="#b01c1c" stroke-width="0.2" textLength="47.7" lengthAdjust="spacingAndGlyphs">Ethyl glucuronide</text>
<text x="539.5" y="104.25" font-size="7.5" fill="#b01c1c" stroke="#b01c1c" stroke-width="0.2" textLength="24.4" lengthAdjust="spacingAndGlyphs">γ-Glu-Asp</text>
<text x="570.5" y="109.55" font-size="7.5" fill="#b01c1c" stroke="#b01c1c" stroke-width="0.2" textLength="54.5" lengthAdjust="spacingAndGlyphs">1-Methylnicotinamide</text>
<text x="627" y="105.65" font-size="7.5" fill="#b01c1c" stroke="#b01c1c" stroke-width="0.2" textLength="82.2" lengthAdjust="spacingAndGlyphs">1-Methyl-4-imidazoleacetic acid</text>
<text x="667.6" y="113.25" font-size="7.5" fill="#b01c1c" stroke="#b01c1c" stroke-width="0.2" textLength="28.9" lengthAdjust="spacingAndGlyphs">Trigonelline</text>
<text x="561" y="116.55" font-size="7.5" fill="#b01c1c" stroke="#b01c1c" stroke-width="0.2" textLength="31.5" lengthAdjust="spacingAndGlyphs">Glyceric acid</text>
<text x="599.7" y="117.45" font-size="7.5" fill="#b01c1c" stroke="#b01c1c" stroke-width="0.2" textLength="25.3" lengthAdjust="spacingAndGlyphs">Putrescine</text>
<text x="639.5" y="119.25" font-size="7.5" fill="#b01c1c" stroke="#b01c1c" stroke-width="0.2" textLength="22.5" lengthAdjust="spacingAndGlyphs">Thiamine</text>
<text x="559" y="125.25" font-size="7.5" fill="#b01c1c" stroke="#b01c1c" stroke-width="0.2" textLength="36.2" lengthAdjust="spacingAndGlyphs">Isethionic acid</text>
<text x="601.2" y="126.55" font-size="7.5" fill="#b01c1c" stroke="#b01c1c" stroke-width="0.2" textLength="39.2" lengthAdjust="spacingAndGlyphs">4-Pyridoxic acid</text>
<text x="648.1" y="126.55" font-size="7.5" fill="#b01c1c" stroke="#b01c1c" stroke-width="0.2" textLength="51.1" lengthAdjust="spacingAndGlyphs">Cysteine sulfinic acid</text>
<text x="558.1" y="133.55" font-size="7.5" fill="#b01c1c" stroke="#b01c1c" stroke-width="0.2" textLength="38.9" lengthAdjust="spacingAndGlyphs">Hydroxyproline</text>
<text x="603.3" y="135.15" font-size="7.5" fill="#b01c1c" stroke="#b01c1c" stroke-width="0.2" textLength="28.9" lengthAdjust="spacingAndGlyphs">Succinic acid</text>
<text x="640.4" y="134.65" font-size="7.5" fill="#b01c1c" stroke="#b01c1c" stroke-width="0.2" textLength="54.0" lengthAdjust="spacingAndGlyphs">Trimethylamine (TMA)</text>
<text x="640.4" y="142.35" font-size="7.5" fill="#b01c1c" stroke="#b01c1c" stroke-width="0.2" textLength="39.7" lengthAdjust="spacingAndGlyphs">Gluconolactone</text>
<text x="525" y="140.75" font-size="7.5" fill="#b01c1c" stroke="#b01c1c" stroke-width="0.2" textLength="59.5" lengthAdjust="spacingAndGlyphs">4-Guanidinobutyric acid</text>
<text x="605.1" y="145.65" font-size="7.5" fill="#b01c1c" stroke="#b01c1c" stroke-width="0.2" textLength="28.9" lengthAdjust="spacingAndGlyphs">Stachydrine</text>
<text x="536.8" y="148.45" font-size="7.5" fill="#b01c1c" stroke="#b01c1c" stroke-width="0.2" textLength="61.1" lengthAdjust="spacingAndGlyphs">N-Acetylneuraminic acid</text>
<text x="497" y="54.55" font-size="7.5" fill="#5281cc" stroke="#5281cc" stroke-width="0.15" textLength="39.1" lengthAdjust="spacingAndGlyphs">γ-Glutamylalanine</text>
<text x="482.6" y="102.65" font-size="7.5" fill="#5281cc" stroke="#5281cc" stroke-width="0.15" textLength="20.8" lengthAdjust="spacingAndGlyphs">γ-Glu-Ile</text>
<text x="510.6" y="111.55" font-size="7.5" fill="#5281cc" stroke="#5281cc" stroke-width="0.15" textLength="41.6" lengthAdjust="spacingAndGlyphs">Pantothenic acid</text>
<text x="431.3" y="113.95" font-size="7.5" fill="#5281cc" stroke="#5281cc" stroke-width="0.15" textLength="23.6" lengthAdjust="spacingAndGlyphs">γ-Glu-Cys</text>
<text x="461.8" y="111.45" font-size="7.5" fill="#5281cc" stroke="#5281cc" stroke-width="0.15" textLength="18.1" lengthAdjust="spacingAndGlyphs">Cystine</text>
<text x="448.6" y="123.25" font-size="7.5" fill="#5281cc" stroke="#5281cc" stroke-width="0.15" textLength="14.6" lengthAdjust="spacingAndGlyphs">Uracil</text>
<text x="481.5" y="119.95" font-size="7.5" fill="#5281cc" stroke="#5281cc" stroke-width="0.15" textLength="65.8" lengthAdjust="spacingAndGlyphs">3-Aminopentanedioic acid</text>
<text x="456.25" y="130.75" font-size="7.5" fill="#5281cc" stroke="#5281cc" stroke-width="0.15" textLength="94.1" lengthAdjust="spacingAndGlyphs">2-Methylthiazolidine-4-carboxylic acid</text>
<text x="418.1" y="134.75" font-size="7.5" fill="#5281cc" stroke="#5281cc" stroke-width="0.15" textLength="33.3" lengthAdjust="spacingAndGlyphs">Nicotinamide</text>
<path d="M328.2 5 H718" stroke="#6e6e6e" stroke-width="1.6" fill="none"/>
<path d="M328.2 5 V242.3" stroke="#454545" stroke-width="1.6" fill="none"/>
<path d="M327.4 242.3 H718.8" stroke="#1e1e1e" stroke-width="1.6" fill="none"/>
<path d="M718 4.2 V243.10000000000002" stroke="#222" stroke-width="1.6" fill="none"/>
<line x1="331.23" y1="242.3" x2="331.23" y2="244.10000000000002" stroke="#222" stroke-width="1"/>
<text x="331.23" y="249.10000000000002" font-size="4.8" fill="#555" text-anchor="middle">-7.5</text>
<line x1="405.82" y1="242.3" x2="405.82" y2="244.10000000000002" stroke="#222" stroke-width="1"/>
<text x="405.82" y="249.10000000000002" font-size="4.8" fill="#555" text-anchor="middle">-5.0</text>
<line x1="480.41" y1="242.3" x2="480.41" y2="244.10000000000002" stroke="#222" stroke-width="1"/>
<text x="480.41" y="249.10000000000002" font-size="4.8" fill="#555" text-anchor="middle">-2.5</text>
<line x1="555.00" y1="242.3" x2="555.00" y2="244.10000000000002" stroke="#222" stroke-width="1"/>
<text x="555.00" y="249.10000000000002" font-size="4.8" fill="#555" text-anchor="middle">0.0</text>
<line x1="629.59" y1="242.3" x2="629.59" y2="244.10000000000002" stroke="#222" stroke-width="1"/>
<text x="629.59" y="249.10000000000002" font-size="4.8" fill="#555" text-anchor="middle">2.5</text>
<line x1="704.18" y1="242.3" x2="704.18" y2="244.10000000000002" stroke="#222" stroke-width="1"/>
<text x="704.18" y="249.10000000000002" font-size="4.8" fill="#555" text-anchor="middle">5.0</text>
<line x1="326.4" y1="232.30" x2="328.2" y2="232.30" stroke="#222" stroke-width="1"/>
<text x="324.9" y="234.10" font-size="5.2" fill="#555" text-anchor="end">0</text>
<line x1="326.4" y1="160.28" x2="328.2" y2="160.28" stroke="#222" stroke-width="1"/>
<text x="324.9" y="162.08" font-size="5.2" fill="#555" text-anchor="end">1</text>
<line x1="326.4" y1="88.26" x2="328.2" y2="88.26" stroke="#222" stroke-width="1"/>
<text x="324.9" y="90.06" font-size="5.2" fill="#555" text-anchor="end">2</text>
<line x1="326.4" y1="16.24" x2="328.2" y2="16.24" stroke="#222" stroke-width="1"/>
<text x="324.9" y="18.04" font-size="5.2" fill="#555" text-anchor="end">3</text>
<text x="421.7" y="260" font-size="10" font-weight="bold" fill="#111" stroke="#111" stroke-width="0.3" textLength="205.0" lengthAdjust="spacingAndGlyphs">log2(FC): tacrolimus 2 days/control in lumen</text>
<text x="319.0" y="138.7" font-size="9.2" font-weight="bold" fill="#111" stroke="#111" stroke-width="0.3" textLength="40.7" lengthAdjust="spacingAndGlyphs" transform="rotate(-90 319.0 138.7)">-log10(p)</text>
<text x="0" y="0" transform="translate(303.43 19.07) scale(0.82 1)" font-size="24" font-weight="bold" fill="#000" stroke="#000" stroke-width="0.7">C</text>
<line x1="361.27" y1="270.3" x2="361.27" y2="504.8" stroke="#e6e6e6" stroke-width="0.9"/>
<line x1="420.24" y1="270.3" x2="420.24" y2="504.8" stroke="#e6e6e6" stroke-width="0.9"/>
<line x1="479.20" y1="270.3" x2="479.20" y2="504.8" stroke="#e6e6e6" stroke-width="0.9"/>
<line x1="538.16" y1="270.3" x2="538.16" y2="504.8" stroke="#e6e6e6" stroke-width="0.9"/>
<line x1="597.12" y1="270.3" x2="597.12" y2="504.8" stroke="#e6e6e6" stroke-width="0.9"/>
<line x1="656.09" y1="270.3" x2="656.09" y2="504.8" stroke="#e6e6e6" stroke-width="0.9"/>
<line x1="715.05" y1="270.3" x2="715.05" y2="504.8" stroke="#e6e6e6" stroke-width="0.9"/>
<line x1="329.2" y1="494.60" x2="718.6" y2="494.60" stroke="#e6e6e6" stroke-width="0.9"/>
<line x1="329.2" y1="454.90" x2="718.6" y2="454.90" stroke="#e6e6e6" stroke-width="0.9"/>
<line x1="329.2" y1="415.20" x2="718.6" y2="415.20" stroke="#e6e6e6" stroke-width="0.9"/>
<line x1="329.2" y1="375.50" x2="718.6" y2="375.50" stroke="#e6e6e6" stroke-width="0.9"/>
<line x1="329.2" y1="335.80" x2="718.6" y2="335.80" stroke="#e6e6e6" stroke-width="0.9"/>
<line x1="329.2" y1="296.10" x2="718.6" y2="296.10" stroke="#e6e6e6" stroke-width="0.9"/>
<circle cx="456.6" cy="303.4" r="2.0" fill="#bdbdbd"/>
<circle cx="512.5" cy="359.5" r="2.0" fill="#bdbdbd"/>
<circle cx="500.9" cy="380.7" r="2.0" fill="#bdbdbd"/>
<circle cx="509.1" cy="387.3" r="2.0" fill="#bdbdbd"/>
<circle cx="509.1" cy="390.9" r="2.0" fill="#bdbdbd"/>
<circle cx="517" cy="384.1" r="2.0" fill="#bdbdbd"/>
<circle cx="465.2" cy="395.5" r="2.0" fill="#bdbdbd"/>
<circle cx="451.4" cy="402.6" r="2.0" fill="#bdbdbd"/>
<circle cx="458" cy="404.3" r="2.0" fill="#bdbdbd"/>
<circle cx="450.1" cy="416.7" r="2.0" fill="#bdbdbd"/>
<circle cx="457.5" cy="416.2" r="2.0" fill="#bdbdbd"/>
<circle cx="466.9" cy="419.3" r="2.0" fill="#bdbdbd"/>
<circle cx="442" cy="429.2" r="2.0" fill="#bdbdbd"/>
<circle cx="453.8" cy="431.7" r="2.0" fill="#bdbdbd"/>
<circle cx="457.5" cy="431.7" r="2.0" fill="#bdbdbd"/>
<circle cx="467.2" cy="419.1" r="2.0" fill="#bdbdbd"/>
<circle cx="493.3" cy="408.7" r="2.0" fill="#bdbdbd"/>
<circle cx="502.5" cy="404.8" r="2.0" fill="#bdbdbd"/>
<circle cx="508.9" cy="407.1" r="2.0" fill="#bdbdbd"/>
<circle cx="515.8" cy="409.4" r="2.0" fill="#bdbdbd"/>
<circle cx="500.8" cy="412.3" r="2.0" fill="#bdbdbd"/>
<circle cx="503.2" cy="414.9" r="2.0" fill="#bdbdbd"/>
<circle cx="515.5" cy="414.4" r="2.0" fill="#bdbdbd"/>
<circle cx="502.7" cy="419.6" r="2.0" fill="#bdbdbd"/>
<circle cx="505.6" cy="423" r="2.0" fill="#bdbdbd"/>
<circle cx="508.4" cy="421" r="2.0" fill="#bdbdbd"/>
<circle cx="512.2" cy="423" r="2.0" fill="#bdbdbd"/>
<circle cx="495.2" cy="425.8" r="2.0" fill="#bdbdbd"/>
<circle cx="502.3" cy="427.2" r="2.0" fill="#bdbdbd"/>
<circle cx="503.7" cy="428.1" r="2.0" fill="#bdbdbd"/>
<circle cx="513.6" cy="428.6" r="2.0" fill="#bdbdbd"/>
<circle cx="516.5" cy="430.5" r="2.0" fill="#bdbdbd"/>
<circle cx="496.1" cy="431.5" r="2.0" fill="#bdbdbd"/>
<circle cx="493.3" cy="432.9" r="2.0" fill="#bdbdbd"/>
<circle cx="490.4" cy="434.8" r="2.0" fill="#bdbdbd"/>
<circle cx="506.5" cy="434.8" r="2.0" fill="#bdbdbd"/>
<circle cx="510.3" cy="434.8" r="2.0" fill="#bdbdbd"/>
<circle cx="499" cy="438" r="2.0" fill="#bdbdbd"/>
<circle cx="384.3" cy="444.9" r="2.0" fill="#bdbdbd"/>
<circle cx="381.2" cy="454.8" r="2.0" fill="#bdbdbd"/>
<circle cx="384.3" cy="454.8" r="2.0" fill="#bdbdbd"/>
<circle cx="400.9" cy="453.5" r="2.0" fill="#bdbdbd"/>
<circle cx="405.6" cy="452.1" r="2.0" fill="#bdbdbd"/>
<circle cx="408.1" cy="443.4" r="2.0" fill="#bdbdbd"/>
<circle cx="405.2" cy="461.6" r="2.0" fill="#bdbdbd"/>
<circle cx="408.9" cy="468.1" r="2.0" fill="#bdbdbd"/>
<circle cx="412.6" cy="465.2" r="2.0" fill="#bdbdbd"/>
<circle cx="415.1" cy="465.2" r="2.0" fill="#bdbdbd"/>
<circle cx="419.7" cy="458.2" r="2.0" fill="#bdbdbd"/>
<circle cx="424.6" cy="457" r="2.0" fill="#bdbdbd"/>
<circle cx="429" cy="451.3" r="2.0" fill="#bdbdbd"/>
<circle cx="433.6" cy="455.4" r="2.0" fill="#bdbdbd"/>
<circle cx="431.5" cy="461.6" r="2.0" fill="#bdbdbd"/>
<circle cx="437.9" cy="462.8" r="2.0" fill="#bdbdbd"/>
<circle cx="422.1" cy="466.1" r="2.0" fill="#bdbdbd"/>
<circle cx="425" cy="468.9" r="2.0" fill="#bdbdbd"/>
<circle cx="422.1" cy="478.2" r="2.0" fill="#bdbdbd"/>
<circle cx="433" cy="479.7" r="2.0" fill="#bdbdbd"/>
<circle cx="434.8" cy="480.4" r="2.0" fill="#bdbdbd"/>
<circle cx="439.1" cy="476.3" r="2.0" fill="#bdbdbd"/>
<circle cx="442.5" cy="446.2" r="2.0" fill="#bdbdbd"/>
<circle cx="457.9" cy="447.4" r="2.0" fill="#bdbdbd"/>
<circle cx="461.6" cy="445.5" r="2.0" fill="#bdbdbd"/>
<circle cx="465.2" cy="442.5" r="2.0" fill="#bdbdbd"/>
<circle cx="489.9" cy="445.5" r="2.0" fill="#bdbdbd"/>
<circle cx="457.2" cy="452.3" r="2.0" fill="#bdbdbd"/>
<circle cx="456" cy="456" r="2.0" fill="#bdbdbd"/>
<circle cx="459.7" cy="455.4" r="2.0" fill="#bdbdbd"/>
<circle cx="467.7" cy="456.6" r="2.0" fill="#bdbdbd"/>
<circle cx="470.2" cy="459.1" r="2.0" fill="#bdbdbd"/>
<circle cx="464" cy="458.5" r="2.0" fill="#bdbdbd"/>
<circle cx="461.6" cy="462.8" r="2.0" fill="#bdbdbd"/>
<circle cx="465.2" cy="462.8" r="2.0" fill="#bdbdbd"/>
<circle cx="458.5" cy="462.2" r="2.0" fill="#bdbdbd"/>
<circle cx="466.5" cy="465.2" r="2.0" fill="#bdbdbd"/>
<circle cx="445.5" cy="466.5" r="2.0" fill="#bdbdbd"/>
<circle cx="449.2" cy="465.9" r="2.0" fill="#bdbdbd"/>
<circle cx="451.7" cy="467.1" r="2.0" fill="#bdbdbd"/>
<circle cx="457.2" cy="466.5" r="2.0" fill="#bdbdbd"/>
<circle cx="472" cy="467.7" r="2.0" fill="#bdbdbd"/>
<circle cx="464.6" cy="469.6" r="2.0" fill="#bdbdbd"/>
<circle cx="468.9" cy="470.2" r="2.0" fill="#bdbdbd"/>
<circle cx="460.9" cy="471.4" r="2.0" fill="#bdbdbd"/>
<circle cx="458.5" cy="473.3" r="2.0" fill="#bdbdbd"/>
<circle cx="462.8" cy="472.6" r="2.0" fill="#bdbdbd"/>
<circle cx="448" cy="471.4" r="2.0" fill="#bdbdbd"/>
<circle cx="441.2" cy="476.3" r="2.0" fill="#bdbdbd"/>
<circle cx="454.8" cy="475.7" r="2.0" fill="#bdbdbd"/>
<circle cx="458.5" cy="478.2" r="2.0" fill="#bdbdbd"/>
<circle cx="464.6" cy="478.2" r="2.0" fill="#bdbdbd"/>
<circle cx="468.3" cy="479.4" r="2.0" fill="#bdbdbd"/>
<circle cx="472.6" cy="479.4" r="2.0" fill="#bdbdbd"/>
<circle cx="473.9" cy="480.6" r="2.0" fill="#bdbdbd"/>
<circle cx="446.2" cy="481.9" r="2.0" fill="#bdbdbd"/>
<circle cx="448" cy="482.5" r="2.0" fill="#bdbdbd"/>
<circle cx="461.6" cy="486.2" r="2.0" fill="#bdbdbd"/>
<circle cx="469.6" cy="483.7" r="2.0" fill="#bdbdbd"/>
<circle cx="471.4" cy="482.5" r="2.0" fill="#bdbdbd"/>
<circle cx="470.8" cy="486.2" r="2.0" fill="#bdbdbd"/>
<circle cx="474.5" cy="486.8" r="2.0" fill="#bdbdbd"/>
<circle cx="476.9" cy="488.6" r="2.0" fill="#bdbdbd"/>
<circle cx="479.4" cy="491.7" r="2.0" fill="#bdbdbd"/>
<circle cx="480.6" cy="494.2" r="2.0" fill="#bdbdbd"/>
<circle cx="476.9" cy="493" r="2.0" fill="#bdbdbd"/>
<circle cx="468.3" cy="493" r="2.0" fill="#bdbdbd"/>
<circle cx="450.5" cy="490.5" r="2.0" fill="#bdbdbd"/>
<circle cx="454.2" cy="489.9" r="2.0" fill="#bdbdbd"/>
<circle cx="456" cy="491.7" r="2.0" fill="#bdbdbd"/>
<circle cx="483.7" cy="471.4" r="2.0" fill="#bdbdbd"/>
<circle cx="486.2" cy="473.3" r="2.0" fill="#bdbdbd"/>
<circle cx="488.6" cy="468.3" r="2.0" fill="#bdbdbd"/>
<circle cx="489.9" cy="463.4" r="2.0" fill="#bdbdbd"/>
<circle cx="491.7" cy="465.9" r="2.0" fill="#bdbdbd"/>
<circle cx="493" cy="472" r="2.0" fill="#bdbdbd"/>
<circle cx="494.2" cy="468.3" r="2.0" fill="#bdbdbd"/>
<circle cx="497.9" cy="466.5" r="2.0" fill="#bdbdbd"/>
<circle cx="499.7" cy="464.6" r="2.0" fill="#bdbdbd"/>
<circle cx="490.5" cy="452.9" r="2.0" fill="#bdbdbd"/>
<circle cx="494.2" cy="449.9" r="2.0" fill="#bdbdbd"/>
<circle cx="494.2" cy="457.2" r="2.0" fill="#bdbdbd"/>
<circle cx="488.6" cy="476.9" r="2.0" fill="#bdbdbd"/>
<circle cx="489.3" cy="481.9" r="2.0" fill="#bdbdbd"/>
<circle cx="491.7" cy="481.9" r="2.0" fill="#bdbdbd"/>
<circle cx="494.2" cy="482.5" r="2.0" fill="#bdbdbd"/>
<circle cx="486.8" cy="483.1" r="2.0" fill="#bdbdbd"/>
<circle cx="484.3" cy="485.6" r="2.0" fill="#bdbdbd"/>
<circle cx="483.1" cy="487.4" r="2.0" fill="#bdbdbd"/>
<circle cx="481.9" cy="489.3" r="2.0" fill="#bdbdbd"/>
<circle cx="485" cy="490.5" r="2.0" fill="#bdbdbd"/>
<circle cx="486.8" cy="493" r="2.0" fill="#bdbdbd"/>
<circle cx="483.1" cy="494.2" r="2.0" fill="#bdbdbd"/>
<circle cx="496.7" cy="491.1" r="2.0" fill="#bdbdbd"/>
<circle cx="497.9" cy="492.3" r="2.0" fill="#bdbdbd"/>
<circle cx="467.1" cy="488" r="2.0" fill="#bdbdbd"/>
<circle cx="472" cy="489.3" r="2.0" fill="#bdbdbd"/>
<circle cx="474.5" cy="490.5" r="2.0" fill="#bdbdbd"/>
<circle cx="470.8" cy="493" r="2.0" fill="#bdbdbd"/>
<circle cx="473.3" cy="494.2" r="2.0" fill="#bdbdbd"/>
<circle cx="478.2" cy="494.2" r="2.0" fill="#bdbdbd"/>
<circle cx="479.4" cy="494.8" r="2.0" fill="#bdbdbd"/>
<circle cx="490.6" cy="445.5" r="2.0" fill="#bdbdbd"/>
<circle cx="494.9" cy="449.9" r="2.0" fill="#bdbdbd"/>
<circle cx="508.5" cy="448.4" r="2.0" fill="#bdbdbd"/>
<circle cx="518.9" cy="443.9" r="2.0" fill="#bdbdbd"/>
<circle cx="499.9" cy="456" r="2.0" fill="#bdbdbd"/>
<circle cx="491.2" cy="453.5" r="2.0" fill="#bdbdbd"/>
<circle cx="493.7" cy="457.9" r="2.0" fill="#bdbdbd"/>
<circle cx="501.7" cy="460.3" r="2.0" fill="#bdbdbd"/>
<circle cx="501.1" cy="462.8" r="2.0" fill="#bdbdbd"/>
<circle cx="491.8" cy="462.8" r="2.0" fill="#bdbdbd"/>
<circle cx="492.5" cy="465.2" r="2.0" fill="#bdbdbd"/>
<circle cx="499.2" cy="464.6" r="2.0" fill="#bdbdbd"/>
<circle cx="503.5" cy="466.5" r="2.0" fill="#bdbdbd"/>
<circle cx="509.7" cy="462.8" r="2.0" fill="#bdbdbd"/>
<circle cx="494.9" cy="468.9" r="2.0" fill="#bdbdbd"/>
<circle cx="498.6" cy="468.3" r="2.0" fill="#bdbdbd"/>
<circle cx="493.7" cy="472.6" r="2.0" fill="#bdbdbd"/>
<circle cx="510.9" cy="468.3" r="2.0" fill="#bdbdbd"/>
<circle cx="512.2" cy="472" r="2.0" fill="#bdbdbd"/>
<circle cx="516.5" cy="469.8" r="2.0" fill="#bdbdbd"/>
<circle cx="520.2" cy="467.7" r="2.0" fill="#bdbdbd"/>
<circle cx="509.7" cy="479.4" r="2.0" fill="#bdbdbd"/>
<circle cx="514.6" cy="481.9" r="2.0" fill="#bdbdbd"/>
<circle cx="501.1" cy="481.9" r="2.0" fill="#bdbdbd"/>
<circle cx="491.8" cy="481.9" r="2.0" fill="#bdbdbd"/>
<circle cx="493.7" cy="483.1" r="2.0" fill="#bdbdbd"/>
<circle cx="490" cy="478.2" r="2.0" fill="#bdbdbd"/>
<circle cx="496.8" cy="492.3" r="2.0" fill="#bdbdbd"/>
<circle cx="495.5" cy="493" r="2.0" fill="#bdbdbd"/>
<circle cx="526.9" cy="464" r="2.0" fill="#bdbdbd"/>
<circle cx="530" cy="465.2" r="2.0" fill="#bdbdbd"/>
<circle cx="541.7" cy="464.6" r="2.0" fill="#bdbdbd"/>
<circle cx="547.3" cy="456" r="2.0" fill="#bdbdbd"/>
<circle cx="535" cy="472" r="2.0" fill="#bdbdbd"/>
<circle cx="531.9" cy="477.6" r="2.0" fill="#bdbdbd"/>
<circle cx="534.3" cy="478.8" r="2.0" fill="#bdbdbd"/>
<circle cx="537.4" cy="480" r="2.0" fill="#bdbdbd"/>
<circle cx="533.1" cy="485.3" r="2.0" fill="#bdbdbd"/>
<circle cx="525.7" cy="480.6" r="2.0" fill="#bdbdbd"/>
<circle cx="556.4" cy="443.9" r="2.0" fill="#bdbdbd"/>
<circle cx="559.6" cy="443.9" r="2.0" fill="#bdbdbd"/>
<circle cx="568.3" cy="460.5" r="2.0" fill="#bdbdbd"/>
<circle cx="575.4" cy="460.5" r="2.0" fill="#bdbdbd"/>
<circle cx="582.8" cy="457" r="2.0" fill="#bdbdbd"/>
<line x1="580.1" y1="440.7" x2="590.7" y2="438.6" stroke="#b01c1c" stroke-width="1.7"/>
<circle cx="591.4" cy="280.6" r="2.2" fill="#b01c1c"/>
<circle cx="595.1" cy="326.2" r="2.2" fill="#b01c1c"/>
<circle cx="599.8" cy="346" r="2.2" fill="#b01c1c"/>
<circle cx="529.2" cy="360.3" r="2.2" fill="#b01c1c"/>
<circle cx="623.1" cy="378.7" r="2.2" fill="#b01c1c"/>
<circle cx="701" cy="391.3" r="2.2" fill="#b01c1c"/>
<circle cx="531.3" cy="392.1" r="2.2" fill="#b01c1c"/>
<circle cx="584.1" cy="408.5" r="2.2" fill="#b01c1c"/>
<circle cx="653.5" cy="404.3" r="2.2" fill="#b01c1c"/>
<circle cx="529" cy="411.4" r="2.2" fill="#b01c1c"/>
<circle cx="577.5" cy="424.3" r="2.2" fill="#b01c1c"/>
<circle cx="547.2" cy="429.3" r="2.2" fill="#b01c1c"/>
<circle cx="588.6" cy="434.9" r="2.2" fill="#b01c1c"/>
<circle cx="541.9" cy="436.9" r="2.2" fill="#b01c1c"/>
<circle cx="569" cy="437.5" r="2.2" fill="#b01c1c"/>
<circle cx="575.4" cy="442" r="2.2" fill="#b01c1c"/>
<circle cx="580.7" cy="440.7" r="2.2" fill="#b01c1c"/>
<circle cx="676.4" cy="433.6" r="2.2" fill="#b01c1c"/>
<circle cx="528.5" cy="433.9" r="2.2" fill="#b01c1c"/>
<circle cx="531.1" cy="439" r="2.2" fill="#b01c1c"/>
<circle cx="354.6" cy="351.4" r="2.15" fill="#5281cc"/>
<circle cx="362" cy="384.9" r="2.15" fill="#5281cc"/>
<circle cx="346" cy="417.9" r="2.15" fill="#5281cc"/>
<circle cx="384.2" cy="434.1" r="2.15" fill="#5281cc"/>
<circle cx="368.7" cy="436.4" r="2.15" fill="#5281cc"/>
<line x1="432.03" y1="270.3" x2="432.03" y2="504.8" stroke="#111" stroke-width="1.6" stroke-dasharray="5.25,5.25" stroke-dashoffset="1.8"/>
<line x1="526.37" y1="270.3" x2="526.37" y2="504.8" stroke="#111" stroke-width="1.6" stroke-dasharray="5.25,5.25" stroke-dashoffset="1.8"/>
<line x1="329.2" y1="442.95" x2="718.6" y2="442.95" stroke="#111" stroke-width="1.6" stroke-dasharray="5.25,5.25" stroke-dashoffset="0.3"/>
<text x="567.7" y="277.55" font-size="7.5" fill="#b01c1c" stroke="#b01c1c" stroke-width="0.2" textLength="60.4" lengthAdjust="spacingAndGlyphs">Indole-3-acetic acid</text>
<text x="549.7" y="334.25" font-size="7.5" fill="#b01c1c" stroke="#b01c1c" stroke-width="0.2" textLength="72.0" lengthAdjust="spacingAndGlyphs">3-Aminopentanedioate</text>
<text x="558.2" y="353.55" font-size="7.5" fill="#b01c1c" stroke="#b01c1c" stroke-width="0.2" textLength="70.7" lengthAdjust="spacingAndGlyphs">o-Hydroxybenzoic acid</text>
<text x="522" y="358.05" font-size="7.5" fill="#b01c1c" stroke="#b01c1c" stroke-width="0.2" textLength="29.0" lengthAdjust="spacingAndGlyphs">γ-Glu-Thr</text>
<text x="583.5" y="386.45" font-size="7.5" fill="#b01c1c" stroke="#b01c1c" stroke-width="0.2" textLength="58.6" lengthAdjust="spacingAndGlyphs">Indole-3-lactic acid</text>
<text x="671.2" y="398.85" font-size="7.5" fill="#b01c1c" stroke="#b01c1c" stroke-width="0.2" textLength="40.8" lengthAdjust="spacingAndGlyphs">Hippuric acid</text>
<text x="503.5" y="399.65" font-size="7.5" fill="#b01c1c" stroke="#b01c1c" stroke-width="0.2" textLength="37.8" lengthAdjust="spacingAndGlyphs">Trigonelline</text>
<text x="559.6" y="405.95" font-size="7.5" fill="#b01c1c" stroke="#b01c1c" stroke-width="0.2" textLength="50.4" lengthAdjust="spacingAndGlyphs">Taurocholic acid</text>
<text x="617.9" y="411.85" font-size="7.5" fill="#b01c1c" stroke="#b01c1c" stroke-width="0.2" textLength="50.6" lengthAdjust="spacingAndGlyphs">Glycocholic acid</text>
<text x="495.8" y="419.55" font-size="7.5" fill="#b01c1c" stroke="#b01c1c" stroke-width="0.2" textLength="71.1" lengthAdjust="spacingAndGlyphs">Imidazole-4-acetic acid</text>
<text x="573.5" y="421.25" font-size="7.5" fill="#b01c1c" stroke="#b01c1c" stroke-width="0.2" textLength="33.8" lengthAdjust="spacingAndGlyphs">Cholic acid</text>
<text x="542.7" y="426.55" font-size="7.5" fill="#b01c1c" stroke="#b01c1c" stroke-width="0.2" textLength="23.7" lengthAdjust="spacingAndGlyphs">XA0019</text>
<text x="575.4" y="431.55" font-size="7.5" fill="#b01c1c" stroke="#b01c1c" stroke-width="0.2" textLength="70.7" lengthAdjust="spacingAndGlyphs">3-Phenylpropionic acid</text>
<text x="544.5" y="436.85" font-size="7.5" fill="#b01c1c" stroke="#b01c1c" stroke-width="0.2" textLength="22.4" lengthAdjust="spacingAndGlyphs">Ectoine</text>
<text x="478.4" y="441.25" font-size="7.5" fill="#b01c1c" stroke="#b01c1c" stroke-width="0.2" textLength="46.8" lengthAdjust="spacingAndGlyphs">γ-Glu-Citrulline</text>
<text x="592" y="440.85" font-size="7.5" fill="#b01c1c" stroke="#b01c1c" stroke-width="0.2" textLength="39.6" lengthAdjust="spacingAndGlyphs">Glucaric acid</text>
<text x="640.8" y="440.85" font-size="7.5" fill="#b01c1c" stroke="#b01c1c" stroke-width="0.2" textLength="72.6" lengthAdjust="spacingAndGlyphs">Indole-3-propionic acid</text>
<text x="526" y="450.35" font-size="7.5" fill="#b01c1c" stroke="#b01c1c" stroke-width="0.2" textLength="92.9" lengthAdjust="spacingAndGlyphs">1H-Imidazole-4-propionic acid</text>
<text x="358.3" y="352.65" font-size="7.5" fill="#5281cc" stroke="#5281cc" stroke-width="0.15" textLength="52.9" lengthAdjust="spacingAndGlyphs">Cyclohexylamine</text>
<text x="341.1" y="392.55" font-size="7.5" fill="#5281cc" stroke="#5281cc" stroke-width="0.15" textLength="23.4" lengthAdjust="spacingAndGlyphs">XA0013</text>
<text x="349.7" y="420.15" font-size="7.5" fill="#5281cc" stroke="#5281cc" stroke-width="0.15" textLength="81.3" lengthAdjust="spacingAndGlyphs">4-Acetamidobutanoic acid</text>
<text x="356.6" y="431.95" font-size="7.5" fill="#5281cc" stroke="#5281cc" stroke-width="0.15" textLength="68.9" lengthAdjust="spacingAndGlyphs">5-Hydroxypentanoate</text>
<text x="331.2" y="444.25" font-size="7.5" fill="#5281cc" stroke="#5281cc" stroke-width="0.15" textLength="65.3" lengthAdjust="spacingAndGlyphs">Glucose 1-phosphate</text>
<path d="M329.2 270.3 H718.6" stroke="#222" stroke-width="1.6" fill="none"/>
<path d="M329.2 270.3 V504.8" stroke="#4e4e4e" stroke-width="1.6" fill="none"/>
<path d="M328.4 504.8 H719.4" stroke="#1e1e1e" stroke-width="1.6" fill="none"/>
<path d="M718.6 269.5 V505.6" stroke="#222" stroke-width="1.6" fill="none"/>
<line x1="361.27" y1="504.8" x2="361.27" y2="506.6" stroke="#222" stroke-width="1"/>
<text x="361.27" y="511.6" font-size="4.8" fill="#555" text-anchor="middle">-2.5</text>
<line x1="479.20" y1="504.8" x2="479.20" y2="506.6" stroke="#222" stroke-width="1"/>
<text x="479.20" y="511.6" font-size="4.8" fill="#555" text-anchor="middle">0.0</text>
<line x1="597.12" y1="504.8" x2="597.12" y2="506.6" stroke="#222" stroke-width="1"/>
<text x="597.12" y="511.6" font-size="4.8" fill="#555" text-anchor="middle">2.5</text>
<line x1="715.05" y1="504.8" x2="715.05" y2="506.6" stroke="#222" stroke-width="1"/>
<text x="715.05" y="511.6" font-size="4.8" fill="#555" text-anchor="middle">5.0</text>
<line x1="327.4" y1="494.60" x2="329.2" y2="494.60" stroke="#222" stroke-width="1"/>
<text x="325.9" y="496.40" font-size="5.2" fill="#555" text-anchor="end">0</text>
<line x1="327.4" y1="415.20" x2="329.2" y2="415.20" stroke="#222" stroke-width="1"/>
<text x="325.9" y="417.00" font-size="5.2" fill="#555" text-anchor="end">2</text>
<line x1="327.4" y1="335.80" x2="329.2" y2="335.80" stroke="#222" stroke-width="1"/>
<text x="325.9" y="337.60" font-size="5.2" fill="#555" text-anchor="end">4</text>
<text x="401.7" y="525" font-size="10" font-weight="bold" fill="#111" stroke="#111" stroke-width="0.3" textLength="220.0" lengthAdjust="spacingAndGlyphs">log2(FC): tacrolimus 2 days/control in serum</text>
<text x="319.2" y="402.5" font-size="9.2" font-weight="bold" fill="#111" stroke="#111" stroke-width="0.3" textLength="38.8" lengthAdjust="spacingAndGlyphs" transform="rotate(-90 319.2 402.5)">-log10(p)</text>
<text x="0" y="0" transform="translate(302.9 284.55) scale(1.07 1)" font-size="24" font-weight="bold" fill="#000" stroke="#000" stroke-width="0.7">D</text>
</svg></body></html>
